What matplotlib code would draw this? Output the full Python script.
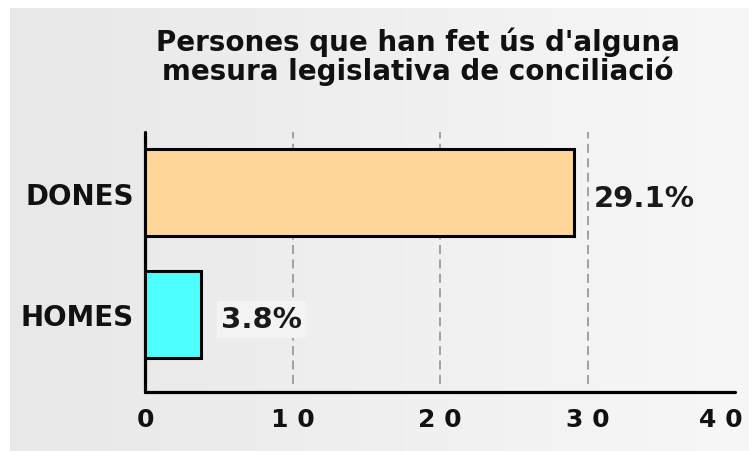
import numpy as np
import matplotlib
matplotlib.use("Agg")
import matplotlib.pyplot as plt
import matplotlib.transforms as mtransforms
from matplotlib.colors import LinearSegmentedColormap

# data
categories = ["HOMES", "DONES"]
values = [3.8, 29.1]
value_labels = ["3.8%", "29.1%"]
xtick_values = [0, 10, 20, 30, 40]
xtick_labels = ["0", "1 0", "2 0", "3 0", "4 0"]
title_lines = ["Persones que han fet ús d'alguna",
               "mesura legislativa de conciliació"]

W, H = 749, 452
plt.rcParams["font.family"] = ["DejaVu Sans"]
plt.rcParams["font.weight"] = "bold"

fig = plt.figure(figsize=(W / 100, H / 100), dpi=100)
fig.patch.set_facecolor("white")

# grey gradient panel behind the chart
bg = fig.add_axes([10 / W, 0, (W - 10) / W, (H - 9) / H], zorder=-1)
grad_cmap = LinearSegmentedColormap.from_list("bg", ["#e8e8e8", "#f7f7f7"])
bg.imshow(np.linspace(0, 1, 256)[None, :], aspect="auto", cmap=grad_cmap,
          extent=[0, 1, 0, 1])
bg.set_axis_off()

ax = fig.add_axes([145 / W, 1 - 393 / H, 590 / W, 260 / H])
ax.patch.set_alpha(0)

bar_colors = ["#4dffff", "#ffd699"]
ypos = np.arange(len(categories))
ax.barh(ypos, values, height=0.72, color=bar_colors, edgecolor="black",
        linewidth=2.2, zorder=3)

# dashed gridlines that stop just short of the x axis
for xv in xtick_values[1:-1]:
    ax.axvline(xv, ymin=0.03, ymax=1, color="#9a9a9a", linestyle=(0, (5, 3)),
               linewidth=1.3, zorder=1)

for yi, (v, lab) in enumerate(zip(values, value_labels)):
    ax.annotate(lab, (v, yi), xytext=(20, -5), textcoords="offset pixels",
                va="center", ha="left", fontsize=21, fontweight="bold",
                color="#1a1a1a", zorder=4,
                bbox=dict(boxstyle="square,pad=0.15", fc="#f3f3f3", ec="none")
                if yi == 0 else None)

ax.set_xlim(0, 40)
ax.set_ylim(-0.64, 1.5)
ax.set_xticks(xtick_values)
ax.set_xticklabels(xtick_labels, fontsize=18, fontweight="bold", color="#111111")
ax.set_yticks(ypos)
ax.set_yticklabels(categories, fontsize=20, fontweight="bold", color="#111111")
ax.tick_params(axis="x", length=0, pad=11)
ax.tick_params(axis="y", length=0, pad=8)
for lab in ax.get_yticklabels():
    lab.set_verticalalignment("center")
    lab.set_transform(lab.get_transform() +
                      mtransforms.ScaledTranslation(0, -3 / 100, fig.dpi_scale_trans))

# the last tick label sits flush with the right edge in the reference
last = ax.get_xticklabels()[-1]
last.set_horizontalalignment("right")
last.set_transform(last.get_transform() +
                   mtransforms.ScaledTranslation(8 / 100, 0, fig.dpi_scale_trans))

for s in ["top", "right"]:
    ax.spines[s].set_visible(False)
for s in ["left", "bottom"]:
    ax.spines[s].set_linewidth(2.3)
    ax.spines[s].set_color("black")
    ax.spines[s].set_capstyle("round")

fig.text(418 / W, 1 - 51 / H, title_lines[0], ha="center", va="baseline",
         fontsize=20, fontweight="bold", color="#111111")
fig.text(418 / W, 1 - 80 / H, title_lines[1], ha="center", va="baseline",
         fontsize=20, fontweight="bold", color="#111111")

fig.savefig("out.png", dpi=100)
